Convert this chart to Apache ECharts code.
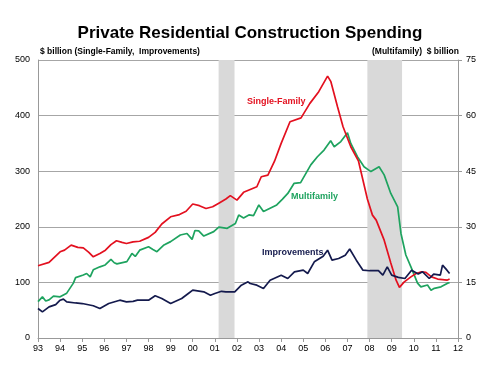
<!DOCTYPE html>
<html>
<head>
<meta charset="utf-8">
<script src="https://cdn.jsdelivr.net/npm/echarts@6/dist/echarts.min.js"></script>
<style>
  html, body { margin: 0; padding: 0; background: #fff; }
  #main { width: 500px; height: 375px; }
</style>
</head>
<body>
<div id="main"></div>
<script>
// [year, $ billion] left axis
var singleFamily = [
  [1993.0, 130], [1993.5, 136], [1994.0, 155], [1994.2, 158], [1994.5, 167], [1994.8, 163],
  [1995.05, 162], [1995.3, 154], [1995.5, 146], [1995.8, 152], [1996.05, 158], [1996.3, 168],
  [1996.55, 175], [1996.8, 172], [1997.0, 170], [1997.3, 173], [1997.6, 174], [1998.0, 181],
  [1998.3, 190], [1998.6, 205], [1999.0, 218], [1999.4, 222], [1999.7, 228], [2000.0, 241],
  [2000.3, 238], [2000.6, 233], [2000.9, 236], [2001.2, 243], [2001.5, 250], [2001.7, 256],
  [2002.0, 248], [2002.3, 262], [2002.6, 267], [2002.9, 272], [2003.1, 290], [2003.4, 293],
  [2003.7, 318], [2004.0, 350], [2004.4, 389], [2004.9, 396], [2005.3, 422], [2005.7, 443],
  [2006.1, 471], [2006.25, 461], [2006.55, 416], [2006.8, 380], [2007.15, 344], [2007.5, 318],
  [2007.9, 250], [2008.13, 221], [2008.3, 212], [2008.66, 176], [2008.96, 135], [2009.2, 104],
  [2009.35, 91], [2009.57, 101], [2009.87, 110], [2010.1, 116], [2010.35, 119], [2010.55, 118],
  [2010.8, 110], [2011.08, 106], [2011.3, 105], [2011.5, 104], [2011.62, 106]
];
// [year, $ billion] right axis
var multifamily = [
  [1993.0, 9.8], [1993.2, 11.1], [1993.35, 10.0], [1993.5, 10.3], [1993.7, 11.3], [1994.0, 11.1],
  [1994.3, 12.1], [1994.6, 14.8], [1994.7, 16.3], [1995.05, 17.0], [1995.2, 17.4], [1995.36, 16.5],
  [1995.5, 18.4], [1995.8, 19.2], [1996.04, 19.7], [1996.3, 21.2], [1996.45, 20.3], [1996.57, 20.0],
  [1997.02, 20.6], [1997.25, 22.8], [1997.4, 22.0], [1997.6, 23.7], [1998.0, 24.6], [1998.2, 23.9],
  [1998.38, 23.3], [1998.7, 25.1], [1999.0, 26.0], [1999.44, 27.8], [1999.74, 28.2], [1999.97, 26.6],
  [2000.1, 29.0], [2000.27, 28.9], [2000.5, 27.5], [2000.95, 28.7], [2001.18, 29.9], [2001.56, 29.6],
  [2001.93, 30.9], [2002.08, 33.2], [2002.3, 32.4], [2002.54, 33.2], [2002.75, 33.0], [2002.99, 35.9],
  [2003.2, 34.1], [2003.5, 35.0], [2003.8, 35.9], [2004.05, 37.4], [2004.3, 39.0], [2004.58, 41.7],
  [2004.88, 41.9], [2005.34, 46.7], [2005.64, 48.9], [2005.94, 50.7], [2006.24, 53.2], [2006.4, 51.6],
  [2006.7, 53.0], [2007.0, 55.4], [2007.15, 52.5], [2007.45, 48.9], [2007.75, 46.2], [2008.06, 44.9],
  [2008.43, 46.2], [2008.66, 44.0], [2008.96, 39.0], [2009.27, 35.4], [2009.42, 28.2], [2009.64, 22.4],
  [2009.87, 19.2], [2010.17, 14.8], [2010.32, 13.8], [2010.62, 14.3], [2010.78, 12.9], [2010.93, 13.4],
  [2011.23, 13.8], [2011.53, 14.8], [2011.62, 14.9]
];
// [year, $ billion] left axis
var improvements = [
  [1993.0, 53], [1993.2, 47], [1993.5, 56], [1993.8, 60], [1994.0, 68], [1994.15, 70], [1994.3, 65],
  [1994.7, 63], [1995.0, 62], [1995.5, 58], [1995.8, 53], [1996.2, 62], [1996.7, 68], [1997.0, 65],
  [1997.3, 66], [1997.5, 68], [1998.0, 68], [1998.3, 76], [1998.6, 71], [1999.0, 62], [1999.5, 71],
  [1999.8, 80], [2000.0, 86], [2000.5, 83], [2000.8, 77], [2001.0, 80], [2001.3, 84], [2001.5, 83],
  [2001.9, 83], [2002.2, 95], [2002.5, 101], [2002.6, 98], [2002.9, 95], [2003.2, 89], [2003.5, 104],
  [2004.0, 113], [2004.3, 107], [2004.6, 119], [2005.0, 122], [2005.2, 116], [2005.5, 137],
  [2005.9, 147], [2006.1, 158], [2006.3, 140], [2006.6, 143], [2006.9, 149], [2007.1, 160],
  [2007.4, 140], [2007.7, 122], [2008.0, 121], [2008.4, 121], [2008.6, 113], [2008.8, 128],
  [2009.0, 113], [2009.3, 109], [2009.6, 107], [2009.9, 122], [2010.2, 115], [2010.4, 119],
  [2010.7, 107], [2010.9, 115], [2011.2, 113], [2011.3, 131], [2011.5, 122], [2011.62, 116]
];
var recessions = [[2001.17, 2001.89], [2007.9, 2009.47]];
var leftTicks = { min: 0, max: 500, interval: 100 };
var rightTicks = { min: 0, max: 75, interval: 15 };

var chart = echarts.init(document.getElementById('main'));
var font = 'Liberation Sans, Arial, sans-serif';

var option = {
  backgroundColor: '#fff',
  animation: false,
  textStyle: { fontFamily: font },
  title: {
    text: 'Private Residential Construction Spending',
    left: 'center', top: 20,
    textStyle: { fontSize: 17, fontWeight: 'bold', color: '#000', fontFamily: font }
  },
  grid: { left: 38, right: 42, top: 60, bottom: 37 },
  xAxis: {
    type: 'value', min: 1993, max: 2012, interval: 1,
    axisLine: { lineStyle: { color: '#999' } },
    axisTick: { show: true, length: 4, lineStyle: { color: '#999' } },
    splitLine: { show: false },
    axisLabel: {
      color: '#000', fontSize: 9, margin: 6,
      formatter: function (v) { return String(Math.round(v) % 100).padStart(2, '0'); }
    }
  },
  yAxis: [{
    type: 'value', min: leftTicks.min, max: leftTicks.max, interval: leftTicks.interval,
    axisLine: { show: true, lineStyle: { color: '#999' } },
    axisTick: { show: false },
    splitLine: { lineStyle: { color: '#a6a6a6' } },
    axisLabel: { color: '#000', fontSize: 9, margin: 8 }
  }, {
    type: 'value', min: rightTicks.min, max: rightTicks.max, interval: rightTicks.interval,
    position: 'right',
    axisLine: { show: true, lineStyle: { color: '#999' } },
    axisTick: { show: true, inside: false, length: 4, lineStyle: { color: '#999' } },
    splitLine: { show: false },
    axisLabel: { color: '#000', fontSize: 9, margin: 8 }
  }],
  series: [{
    name: 'Single-Family', type: 'line', yAxisIndex: 0, data: singleFamily,
    showSymbol: false, lineStyle: { color: '#e3101f', width: 1.7 }, z: 4,
    markArea: {
      silent: true,
      itemStyle: { color: '#d9d9d9' },
      data: recessions.map(function (r) { return [{ xAxis: r[0] }, { xAxis: r[1] }]; })
    }
  }, {
    name: 'Multifamily', type: 'line', yAxisIndex: 1, data: multifamily,
    showSymbol: false, lineStyle: { color: '#1ea35f', width: 1.7 }, z: 3
  }, {
    name: 'Improvements', type: 'line', yAxisIndex: 0, data: improvements,
    showSymbol: false, lineStyle: { color: '#141a4d', width: 1.7 }, z: 5
  }],
  graphic: [
    { type: 'text', left: 40, top: 47, style: { text: '$ billion (Single-Family,  Improvements)', fill: '#000', font: 'bold 8.5px ' + font } },
    { type: 'text', left: 372, top: 47, style: { text: '(Multifamily)  $ billion', fill: '#000', font: 'bold 8.5px ' + font } },
    { type: 'text', left: 247, top: 97, style: { text: 'Single-Family', fill: '#e3101f', font: 'bold 9px ' + font } },
    { type: 'text', left: 291, top: 192, style: { text: 'Multifamily', fill: '#1ea35f', font: 'bold 9px ' + font } },
    { type: 'text', left: 262, top: 248, style: { text: 'Improvements', fill: '#141a4d', font: 'bold 9px ' + font } }
  ]
};
chart.setOption(option);
</script>
</body>
</html>
